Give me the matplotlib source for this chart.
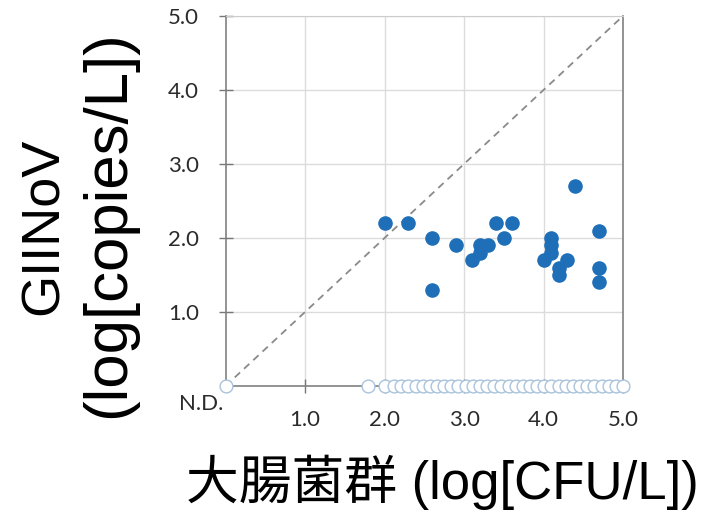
import matplotlib.pyplot as plt

# detected samples: coliform (x) vs GII NoV (y)
det_x = [2.0, 2.3, 2.6, 2.6, 2.9, 3.1, 3.2, 3.2, 3.3, 3.4, 3.5, 3.6,
         4.0, 4.1, 4.1, 4.1, 4.2, 4.2, 4.3, 4.4, 4.7, 4.7, 4.7]
det_y = [2.2, 2.2, 2.0, 1.3, 1.9, 1.7, 1.8, 1.9, 1.9, 2.2, 2.0, 2.2,
         1.7, 2.0, 1.9, 1.8, 1.6, 1.5, 1.7, 2.7, 2.1, 1.6, 1.4]

# not detected (N.D.) samples, plotted on the bottom line
nd_x = [0.0, 1.79, 2.0, 2.12, 2.21, 2.30, 2.39, 2.48, 2.57, 2.66, 2.75, 2.84,
        2.93, 3.02, 3.11, 3.20, 3.29, 3.38, 3.47, 3.56, 3.65, 3.74, 3.83,
        3.92, 4.01, 4.10, 4.19, 4.28, 4.37, 4.46, 4.55, 4.64, 4.73, 4.82,
        4.91, 5.00]
nd_y = [0.0] * len(nd_x)

ticks = [1.0, 2.0, 3.0, 4.0, 5.0]
tick_labels = ['1.0', '2.0', '3.0', '4.0', '5.0']

fig = plt.figure(figsize=(7.13, 5.14), dpi=100)
ax = fig.add_axes([0.3163, 0.249, 0.5575, 0.7199])

ax.plot([0, 5], [0, 5], ls=(0, (4, 3)), color='#8a8a8a', lw=1.3, zorder=1)
ax.scatter(det_x, det_y, s=90, color='#1f6fb8', zorder=4, clip_on=False)
ax.scatter(nd_x, nd_y, s=85, facecolor='white', edgecolor='#a9c3dd',
           lw=1.0, zorder=4, clip_on=False)

ax.set_xlim(0, 5)
ax.set_ylim(0, 5)
ax.set_xticks(ticks)
ax.set_yticks(ticks)
ax.set_xticklabels(tick_labels, family='Lato', fontsize=16, color='#2b2b2b')
ax.set_yticklabels(tick_labels, family='Lato', fontsize=16, color='#2b2b2b')
ax.tick_params(direction='inout', length=10, width=1, color='#777777')
ax.tick_params(axis='x', pad=12)
ax.tick_params(axis='y', pad=14)
ax.grid(True, color='#dcdcdc', lw=1)
ax.set_axisbelow(True)
for side in ['left', 'bottom', 'right']:
    ax.spines[side].set_color('#808080')
    ax.spines[side].set_linewidth(1.2)
ax.spines['top'].set_color('#cccccc')

ax.text(-0.03, -0.24, 'N.D.', transform=ax.transData, ha='right', va='center',
        family='Lato', fontsize=16, color='#2b2b2b')

fig.text(0.061, 0.560, 'GIINoV', rotation=90, ha='center', va='center',
         family='Liberation Sans', fontsize=39)
fig.text(0.152, 0.563, '(log[copies/L])', rotation=90, ha='center', va='center',
         family='Liberation Sans', fontsize=44.5)
fig.text(0.62, 0.062, '大腸菌群 (log[CFU/L])', ha='center', va='center',
         family=['Liberation Sans', 'Noto Sans CJK JP'], fontsize=38)

fig.savefig('out.png', dpi=100)
